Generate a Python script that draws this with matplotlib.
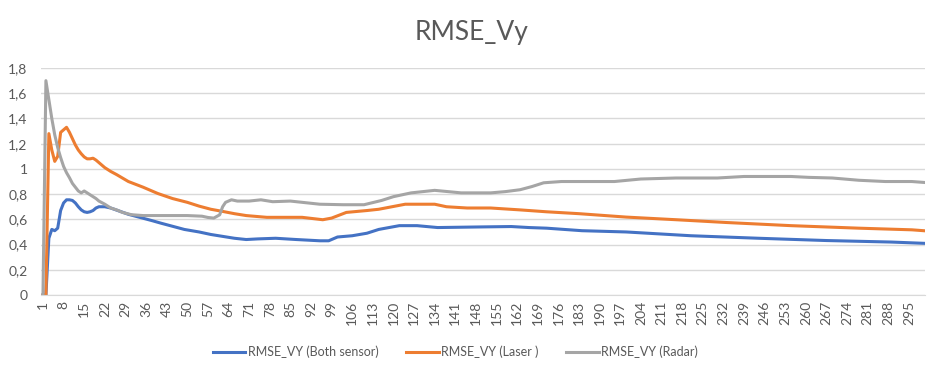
import matplotlib
matplotlib.use("Agg")
import matplotlib.pyplot as plt
from matplotlib.ticker import FuncFormatter

both_steps = [1, 2, 3, 4, 5, 6, 7, 8, 9, 10, 11, 12, 13, 14, 15, 16, 17, 18, 19, 20,
              22, 24, 27, 30, 34, 38, 41, 45, 49, 54, 58, 62, 66, 70, 74, 80, 87, 95,
              98, 101, 106, 111, 115, 122, 128, 135, 150, 160, 166, 172, 184, 199,
              221, 244, 267, 289, 300]
both_vals = [0.0, 0.0, 0.45, 0.52, 0.51, 0.53, 0.67, 0.73, 0.755, 0.755, 0.75, 0.73,
             0.70, 0.675, 0.66, 0.655, 0.66, 0.67, 0.69, 0.70, 0.70, 0.69, 0.665,
             0.64, 0.615, 0.59, 0.57, 0.545, 0.52, 0.50, 0.48, 0.465, 0.45, 0.44,
             0.445, 0.45, 0.44, 0.43, 0.43, 0.46, 0.47, 0.49, 0.52, 0.55, 0.55,
             0.535, 0.54, 0.543, 0.535, 0.53, 0.51, 0.50, 0.47, 0.45, 0.432, 0.42,
             0.41]

laser_steps = [1, 2, 3, 4, 5, 6, 7, 8, 9, 10, 11, 12, 13, 14, 15, 16, 17, 18, 19, 20,
               22, 24, 26, 30, 35, 40, 45, 50, 54, 58, 62, 66, 70, 77, 89, 96, 99,
               104, 111, 115, 124, 134, 138, 145, 153, 163, 172, 183, 199, 216, 233,
               255, 278, 296, 300]
laser_vals = [0.0, 0.0, 1.28, 1.15, 1.06, 1.10, 1.29, 1.31, 1.33, 1.29, 1.24, 1.19,
              1.15, 1.12, 1.095, 1.08, 1.08, 1.085, 1.07, 1.05, 1.01, 0.98, 0.955,
              0.90, 0.855, 0.805, 0.765, 0.735, 0.705, 0.68, 0.663, 0.645, 0.63,
              0.616, 0.616, 0.597, 0.61, 0.655, 0.67, 0.68, 0.72, 0.72, 0.70, 0.69,
              0.69, 0.675, 0.66, 0.645, 0.618, 0.597, 0.575, 0.55, 0.53, 0.517,
              0.51]

radar_steps = [1, 2, 3, 4, 5, 6, 7, 8, 9, 10, 11, 12, 13, 14, 15, 16, 17, 18, 19, 20,
               22, 24, 26, 28, 31, 35, 40, 50, 55, 57, 59, 61, 62, 63, 65, 67, 71,
               75, 79, 85, 95, 103, 110, 116, 120, 126, 134, 143, 153, 158, 163, 167,
               171, 177, 195, 204, 216, 230, 239, 255, 261, 269, 278, 287, 296, 300]
radar_vals = [0.0, 1.70, 1.55, 1.40, 1.27, 1.17, 1.09, 1.02, 0.97, 0.93, 0.885,
              0.855, 0.825, 0.81, 0.825, 0.81, 0.795, 0.78, 0.765, 0.745, 0.72,
              0.69, 0.675, 0.655, 0.637, 0.63, 0.63, 0.63, 0.625, 0.615, 0.61,
              0.636, 0.70, 0.735, 0.755, 0.745, 0.745, 0.755, 0.74, 0.745, 0.72,
              0.716, 0.716, 0.75, 0.78, 0.81, 0.83, 0.81, 0.81, 0.82, 0.835, 0.86,
              0.89, 0.90, 0.90, 0.92, 0.928, 0.928, 0.94, 0.94, 0.933, 0.928, 0.91,
              0.90, 0.90, 0.893]

n_steps = 300
tick_steps = list(range(1, n_steps + 1, 7))

plt.rcParams["font.family"] = ["Lato", "DejaVu Sans"]
text_color = "#595959"
grid_color = "#d9d9d9"

fig = plt.figure(figsize=(9.43, 3.77), dpi=100)
ax = fig.add_axes([0.044, 0.2175, 0.937, 0.602])

ax.plot(both_steps, both_vals, color="#4472C4", lw=2.2, label="RMSE_VY (Both sensor)",
        solid_joinstyle="round")
ax.plot(laser_steps, laser_vals, color="#ED7D31", lw=2.2, label="RMSE_VY (Laser )",
        solid_joinstyle="round")
ax.plot(radar_steps, radar_vals, color="#A5A5A5", lw=2.2, label="RMSE_VY (Radar)",
        solid_joinstyle="round")

ax.set_xlim(0.5, n_steps + 0.5)
ax.set_ylim(0, 1.8)
ax.set_yticks([i * 0.2 for i in range(10)])
ax.yaxis.set_major_formatter(FuncFormatter(lambda v, p: f"{v:.1f}".rstrip("0").rstrip(".").replace(".", ",")))
ax.set_xticks(tick_steps)
ax.set_xticklabels([str(s) for s in tick_steps], rotation=90)

ax.grid(axis="y", color=grid_color, lw=1)
ax.set_axisbelow(True)
for side in ["top", "right", "left"]:
    ax.spines[side].set_visible(False)
ax.spines["bottom"].set_color(grid_color)
ax.tick_params(axis="both", length=0, labelsize=10, colors=text_color)
ax.tick_params(axis="y", pad=10)
ax.tick_params(axis="x", pad=4)

fig.text(0.5, 0.915, "RMSE_Vy", ha="center", va="center", fontsize=19, color=text_color)

fig.legend(loc="center", bbox_to_anchor=(0.483, 0.066), ncol=3, frameon=False,
           fontsize=9, handlelength=2.6, handletextpad=0.2, columnspacing=2.2,
           labelcolor=text_color)

fig.savefig("out.png", dpi=100)
